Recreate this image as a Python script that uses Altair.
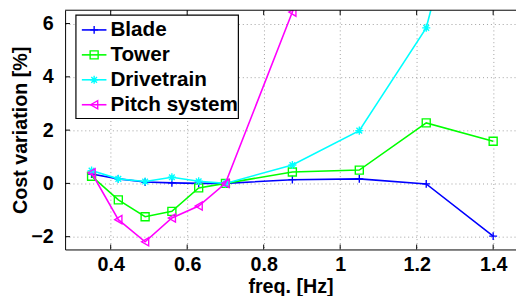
import altair as alt
import pandas as pd

# ---- data ----
freq = [0.35, 0.42, 0.49, 0.56, 0.63, 0.70, 0.875, 1.05, 1.225, 1.4]
blade = [0.35, 0.17, 0.05, 0.02, 0.0, 0.0, 0.14, 0.17, -0.02, -1.98]
tower = [0.27, -0.62, -1.25, -1.05, -0.17, 0.0, 0.43, 0.50, 2.27, 1.58]
drivetrain = [0.48, 0.17, 0.07, 0.23, 0.08, 0.0, 0.69, 1.98, 5.84, 15.5]
pitch = [0.40, -1.36, -2.19, -1.30, -0.85, 0.0, 6.43, 14.0, None, None]

series_names = ["Blade", "Tower", "Drivetrain", "Pitch system"]
series_values = [blade, tower, drivetrain, pitch]
series_colors = ["#0000ff", "#00ff00", "#00ffff", "#ff00ff"]
x_ticks = [0.4, 0.6, 0.8, 1.0, 1.2, 1.4]
y_ticks = [-2, 0, 2, 4, 6]

FONT = "Liberation Sans"
FS = 20
W, H = 458, 243

PLUS = "M-1,0L1,0M0,-1L0,1"
STAR = "M-1,0L1,0M0,-1L0,1M-0.7,-0.7L0.7,0.7M-0.7,0.7L0.7,-0.7"
series_shapes = [PLUS, "square", STAR, "triangle-left"]
series_sizes = [64, 70, 81, 100]

rows = []
for name, vals in zip(series_names, series_values):
    for f, v in zip(freq, vals):
        rows.append({"series": name, "freq": f, "cost": v})
df = pd.DataFrame(rows)

xs = alt.Scale(domain=[0.2808, 1.4597], nice=False, zero=False)
ys = alt.Scale(domain=[-2.48, 6.5], nice=False, zero=False)
col = alt.Scale(domain=series_names, range=series_colors)
shp = alt.Scale(domain=series_names, range=series_shapes)
szs = alt.Scale(domain=series_names, range=series_sizes)

x_axis = alt.Axis(values=x_ticks, format="~g", title="freq. [Hz]", grid=True,
                  ticks=False, labelPadding=5, titlePadding=3)
y_axis = alt.Axis(values=y_ticks, format="~g", title="Cost variation [%]", grid=True,
                  ticks=False, labelPadding=12, titlePadding=0)

X = alt.X("freq:Q", scale=xs, axis=x_axis)
Y = alt.Y("cost:Q", scale=ys, axis=y_axis)
C = alt.Color("series:N", scale=col, legend=None)
S = alt.Shape("series:N", scale=shp, legend=None)
Z = alt.Size("series:N", scale=szs, legend=None)

layers = []
for name in series_names:
    sub = alt.Chart(df).transform_filter(alt.datum.series == name)
    layers.append(sub.mark_line(strokeWidth=1.6, clip=True).encode(x=X, y=Y, color=C))
    layers.append(sub.mark_point(filled=False, strokeWidth=1.4, opacity=1, clip=True)
                  .encode(x=X, y=Y, color=C, shape=S, size=Z))

xt = alt.Chart(pd.DataFrame({"freq": x_ticks}))
yt = alt.Chart(pd.DataFrame({"cost": y_ticks}))
ticks_bottom = xt.mark_rule(color="black").encode(x=X, y=alt.value(H - 5), y2=alt.value(H))
ticks_top = xt.mark_rule(color="black").encode(x=X, y=alt.value(0), y2=alt.value(5))
ticks_left = yt.mark_rule(color="black").encode(y=Y, x=alt.value(0), x2=alt.value(5))
top_border = alt.Chart(pd.DataFrame({"a": [0]})).mark_rule(color="black").encode(
    x=alt.value(0), x2=alt.value(W), y=alt.value(0))

main = alt.layer(*layers, ticks_bottom, ticks_top, ticks_left, top_border)

# ---- legend ----
leg = alt.Chart(pd.DataFrame({"series": series_names}))
LY = alt.Y("series:N", scale=alt.Scale(type="point", domain=series_names, range=[20, 96], padding=0), axis=None)
box = alt.Chart(pd.DataFrame({"a": [0]})).mark_rect(fill="white", stroke="black", strokeWidth=1.2).encode(
    x=alt.value(11), x2=alt.value(176), y=alt.value(5), y2=alt.value(110))
leg_lines = leg.mark_rule(strokeWidth=1.6).encode(x=alt.value(17), x2=alt.value(42), y=LY, color=C)
leg_pts = leg.mark_point(filled=False, strokeWidth=1.4, opacity=1).encode(
    x=alt.value(29.5), y=LY, color=C, shape=S, size=Z)
leg_text = leg.mark_text(align="left", baseline="middle", font=FONT, fontSize=21,
                         fontWeight="bold", color="black").encode(x=alt.value(46), y=LY, text="series:N")
legend = alt.layer(box, leg_lines, leg_pts, leg_text)

chart = (
    alt.layer(main, legend)
    .resolve_scale(y="independent")
    .properties(width=W, height=H,
                padding={"left": 58, "top": 0, "right": 0, "bottom": 45},
                autosize=alt.AutoSizeParams(type="none"))
    .configure_axis(labelFont=FONT, labelFontSize=FS, labelFontWeight="bold", labelColor="black",
                    titleFont=FONT, titleFontSize=FS, titleFontWeight="bold", titleColor="black",
                    domainColor="black", domainWidth=1, gridColor="#a0a0a0", gridDash=[1, 3],
                    gridWidth=1)
    .configure_view(stroke=None)
)

chart.save("out.html", embed_options={"renderer": "svg", "actions": False})
